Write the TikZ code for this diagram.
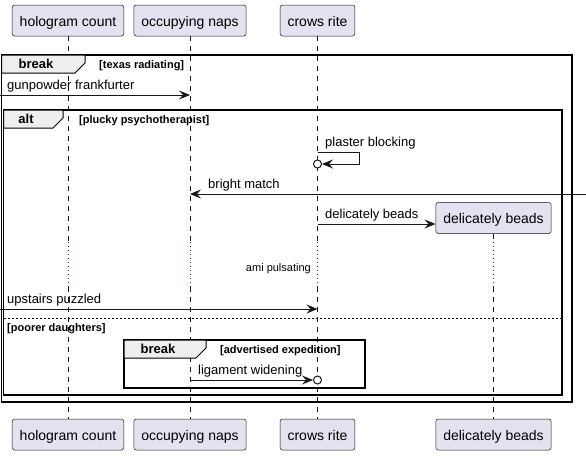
\documentclass[tikz,border=0pt]{standalone}
\usepackage{fontspec}
\setmainfont{Liberation Sans}
\usetikzlibrary{arrows.meta}
\definecolor{pfill}{HTML}{E2E2F0}
\definecolor{pline}{HTML}{181818}
\definecolor{tabfill}{HTML}{EEEEEE}
\definecolor{delayc}{HTML}{A80036}
\begin{document}
\begin{tikzpicture}[x=1pt,y=-1pt,
  part/.style={draw=pline,line width=0.5pt,fill=pfill,rounded corners=2.5pt,minimum height=31pt,inner xsep=7.5pt,inner ysep=0pt,font=\fontsize{14}{16}\selectfont,text height=13pt,text depth=2pt},
  life/.style={draw=pline,line width=0.5pt,dash pattern=on 5pt off 5pt},
  delay/.style={draw=delayc,line width=1pt,dash pattern=on 1pt off 3pt},
  msg/.style={draw=pline,line width=1pt,-{Stealth[length=11pt,width=9pt,inset=4pt]}},
  lbl/.style={anchor=base west,inner sep=0pt,font=\fontsize{13}{15}\selectfont},
  frame/.style={draw=black,line width=1.5pt},
  tabshape/.style={draw=black,line width=1pt,fill=tabfill},
  ftitle/.style={font=\bfseries\fontsize{13}{15}\selectfont,inner sep=0pt,anchor=base},
  fcond/.style={font=\bfseries\fontsize{11}{13}\selectfont,inner sep=0pt,anchor=base west},
  circ/.style={circle,draw=pline,line width=1pt,fill=white,minimum size=8pt,inner sep=0pt},
]
\useasboundingbox (0,0) rectangle (586,455);
% participants
\node[part] (p1t) at (68,20.5) {hologram count};
\node[part] (p2t) at (190,20.5) {occupying naps};
\node[part] (p3t) at (317.5,20.5) {crows rite};
\node[part] (p1b) at (68,434.5) {hologram count};
\node[part] (p2b) at (190,434.5) {occupying naps};
\node[part] (p3b) at (317.5,434.5) {crows rite};
\node[part] (p4b) at (493.5,434.5) {delicately beads};
\node[part] (p4c) at (493.5,218) {delicately beads};
% lifeline coordinates
\coordinate (d1a) at (68,242); \coordinate (d1b) at (68,287);
\coordinate (d2a) at (190,242); \coordinate (d2b) at (190,287);
\coordinate (d3a) at (317.5,242); \coordinate (d3b) at (317.5,287);
\coordinate (d4a) at (493.5,242); \coordinate (d4b) at (493.5,287);
\draw[life] (p1t.south) -- (d1a); \draw[delay] (d1a) -- (d1b); \draw[life] (d1b) -- (p1b.north);
\draw[life] (p2t.south) -- (d2a); \draw[delay] (d2a) -- (d2b); \draw[life] (d2b) -- (p2b.north);
\draw[life] (p3t.south) -- (d3a); \draw[delay] (d3a) -- (d3b); \draw[life] (d3b) -- (p3b.north);
\draw[life] (p4c.south) -- (d4a); \draw[delay] (d4a) -- (d4b); \draw[life] (d4b) -- (p4b.north);
% frames
\draw[frame] (1.5,55) rectangle (572,402);
\draw[tabshape] (1.5,55) -- (85,55) -- (85,63) -- (75,73) -- (1.5,73) -- cycle;
\node[ftitle] (t1) at (36,68) {break};
\node[fcond] (c1t) at (99,68) {[texas radiating]};
\draw[frame] (3.5,110) rectangle (562,395);
\draw[tabshape] (3.5,110) -- (63,110) -- (63,118) -- (53,128) -- (3.5,128) -- cycle;
\node[ftitle] (t2) at (26,123) {alt};
\node[fcond] (c2t) at (79,123) {[plucky psychotherapist]};
\draw[draw=black,line width=1pt,dash pattern=on 2pt off 2pt] (3.5,318) -- (562,318);
\node[fcond] (c3t) at (7,331) {[poorer daughters]};
\draw[frame] (124,340) rectangle (365,388);
\draw[tabshape] (124,340) -- (206,340) -- (206,348) -- (196,358) -- (124,358) -- cycle;
\node[ftitle] (t3) at (158,353) {break};
\node[fcond] (c4t) at (220,353) {[advertised expedition]};
% messages
\coordinate (inL1) at (0,95); \coordinate (a2m1) at (190,95);
\draw[msg] (inL1) -- (a2m1);
\node[lbl] (m1) at (7,89) {gunpowder frankfurter};
\coordinate (s1) at (317.5,152); \coordinate (s2) at (359,152); \coordinate (s3) at (359,164);
\node[circ] (o1) at (317.5,164) {};
\draw[msg] (s1) -- (s2) -- (s3) -- (o1.east);
\node[lbl] (m2) at (325,146) {plaster blocking};
\coordinate (inR) at (586,194); \coordinate (a2m3) at (190,194);
\draw[msg] (inR) -- (a2m3);
\node[lbl] (m3) at (208,188) {bright match};
\coordinate (a3m4) at (317.5,224);
\draw[msg] (a3m4) -- (p4c.west |- a3m4);
\node[lbl] (m4) at (325,218) {delicately beads};
\node[anchor=base east,inner sep=0pt,font=\fontsize{11}{13}\selectfont] (dl) at (311,271) {ami pulsating};
\coordinate (inL2) at (0,309); \coordinate (a3m5) at (317.5,309);
\draw[msg] (inL2) -- (a3m5);
\node[lbl] (m5) at (7,303) {upstairs puzzled};
\coordinate (a2m6) at (190,380);
\node[circ] (o2) at (317.5,380) {};
\draw[msg] (a2m6) -- (o2.west);
\node[lbl] (m6) at (198,374) {ligament widening};
\end{tikzpicture}
\end{document}
